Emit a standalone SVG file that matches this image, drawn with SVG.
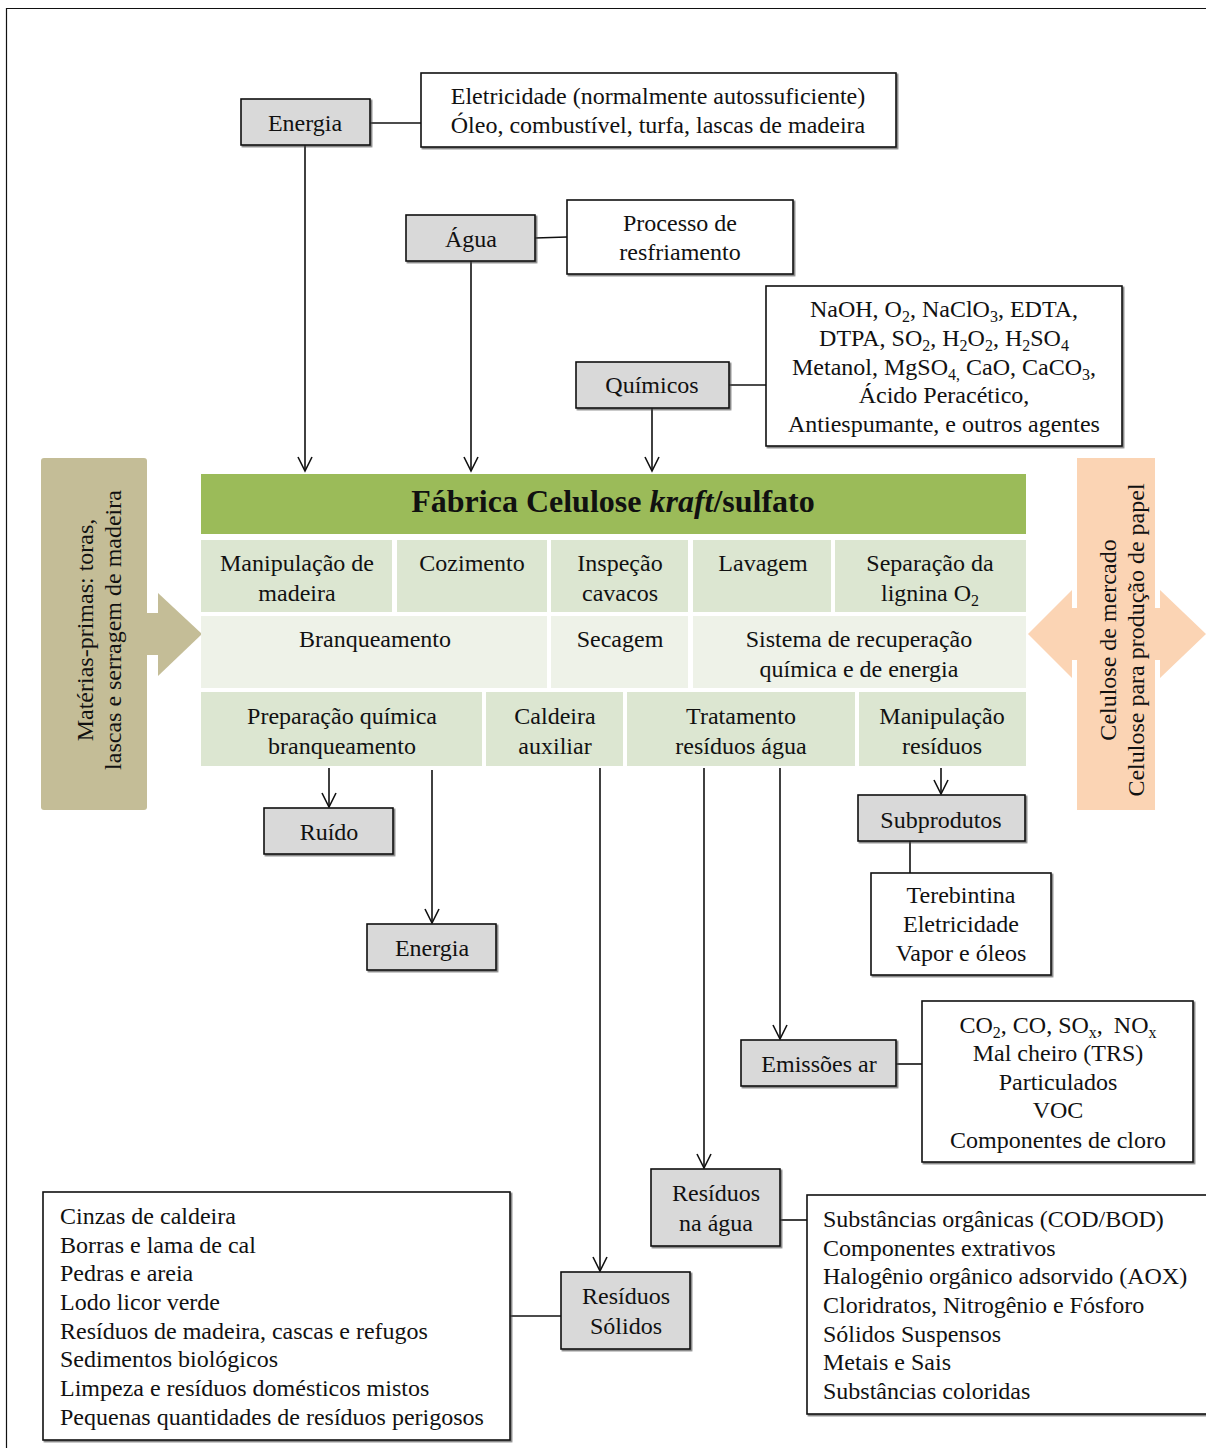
<svg xmlns="http://www.w3.org/2000/svg" width="1206" height="1448" viewBox="0 0 1206 1448">
<style>
text{font-family:"Liberation Serif","Times New Roman",serif;font-size:24px;fill:#111}
.c{text-anchor:middle}
.box{fill:#d9d9d9;stroke:#111;stroke-width:1.6}
.wbox{fill:#fff;stroke:#111;stroke-width:1.6}
.c1{fill:#dce6d1}
.c2{fill:#eef2e8}
.ln{stroke:#111;stroke-width:1.6;fill:none}
.ar{stroke:#111;stroke-width:1.6;fill:none;marker-end:url(#v)}
.sub{font-size:16px}
</style>
<defs>
<marker id="v" viewBox="-16 -9 18 18" refX="0" refY="0" markerWidth="18" markerHeight="18" markerUnits="userSpaceOnUse" orient="auto">
<path d="M-14,-7 L0,0 L-14,7" fill="none" stroke="#111" stroke-width="1.6"/>
</marker>
<filter id="sh" x="-5%" y="-5%" width="110%" height="115%">
<feDropShadow dx="1.5" dy="1.5" stdDeviation="0.6" flood-color="#444" flood-opacity="0.7"/>
</filter>
</defs>
<rect width="1206" height="1448" fill="#fff"/>
<path d="M1206,8.5 H6.5 V1448" fill="none" stroke="#111" stroke-width="1.2"/>

<g id="connectors">
<line class="ln" x1="370" y1="123" x2="421" y2="123"/>
<line class="ar" x1="305" y1="145" x2="305" y2="471"/>
<line class="ln" x1="535" y1="238" x2="567" y2="237"/>
<line class="ar" x1="471" y1="261" x2="471" y2="471"/>
<line class="ln" x1="729" y1="385" x2="766" y2="385"/>
<line class="ar" x1="652" y1="408" x2="652" y2="471"/>
<line class="ar" x1="329" y1="768" x2="329" y2="807"/>
<line class="ar" x1="432" y1="770" x2="432" y2="923"/>
<line class="ar" x1="600" y1="768" x2="600" y2="1271"/>
<line class="ar" x1="704" y1="768" x2="704" y2="1168"/>
<line class="ar" x1="780" y1="768" x2="780" y2="1039"/>
<line class="ar" x1="941" y1="768" x2="941" y2="794"/>
<line class="ln" x1="910" y1="841" x2="910" y2="873"/>
<line class="ln" x1="896" y1="1064" x2="922" y2="1064"/>
<line class="ln" x1="780" y1="1220" x2="807" y2="1220"/>
<line class="ln" x1="510" y1="1316" x2="561" y2="1316"/>
</g>

<g id="materias-primas">
<rect x="41" y="458" width="106" height="352" rx="3" fill="#c4bd97"/>
<rect x="145" y="613" width="16" height="42" fill="#c4bd97"/>
<path d="M158,593 L202,634 L158,676 Z" fill="#c4bd97"/>
<text class="c" transform="translate(93,630) rotate(-90)">Matérias-primas: toras,</text>
<text class="c" transform="translate(121,630) rotate(-90)">lascas e serragem de madeira</text>
</g>

<g id="celulose-saida">
<path d="M1028,634 L1072,590 L1072,608 L1077,608 L1077,458 L1155,458 L1155,608 L1160,608 L1160,590 L1206,634 L1160,678 L1160,660 L1155,660 L1155,810 L1077,810 L1077,660 L1072,660 L1072,678 Z" fill="#fbd4b4"/>
<text class="c" transform="translate(1116,640) rotate(-90)">Celulose de mercado</text>
<text class="c" transform="translate(1144,640) rotate(-90)">Celulose para produção de papel</text>
</g>

<g id="energia-in">
<rect class="box" x="241" y="99" width="129" height="46" filter="url(#sh)"/>
<text class="c" x="305" y="131">Energia</text>
</g>
<g id="energia-fontes">
<rect class="wbox" x="421" y="73" width="475" height="74" filter="url(#sh)"/>
<text class="c" x="658" y="104">Eletricidade (normalmente autossuficiente)</text>
<text class="c" x="658" y="133">Óleo, combustível, turfa, lascas de madeira</text>
</g>
<g id="agua">
<rect class="box" x="406" y="215" width="129" height="46" filter="url(#sh)"/>
<text class="c" x="471" y="247">Água</text>
</g>
<g id="processo">
<rect class="wbox" x="567" y="200" width="226" height="74" filter="url(#sh)"/>
<text class="c" x="680" y="231">Processo de</text>
<text class="c" x="680" y="260">resfriamento</text>
</g>
<g id="quimicos">
<rect class="box" x="576" y="362" width="153" height="46" filter="url(#sh)"/>
<text class="c" x="652" y="393">Químicos</text>
</g>
<g id="quimicos-lista">
<rect class="wbox" x="766" y="286" width="356" height="160" filter="url(#sh)"/>
<text class="c" x="944" y="317">NaOH, O<tspan class="sub" dy="5">2</tspan><tspan dy="-5">, NaClO</tspan><tspan class="sub" dy="5">3</tspan><tspan dy="-5">, EDTA,</tspan></text>
<text class="c" x="944" y="346">DTPA, SO<tspan class="sub" dy="5">2</tspan><tspan dy="-5">, H</tspan><tspan class="sub" dy="5">2</tspan><tspan dy="-5">O</tspan><tspan class="sub" dy="5">2</tspan><tspan dy="-5">, H</tspan><tspan class="sub" dy="5">2</tspan><tspan dy="-5">SO</tspan><tspan class="sub" dy="5">4</tspan></text>
<text class="c" x="944" y="375">Metanol, MgSO<tspan class="sub" dy="5">4,</tspan><tspan dy="-5"> CaO, CaCO</tspan><tspan class="sub" dy="5">3</tspan><tspan dy="-5">,</tspan></text>
<text class="c" x="944" y="403">Ácido Peracético,</text>
<text class="c" x="944" y="432">Antiespumante, e outros agentes</text>
</g>

<g id="fabrica">
<rect x="201" y="474" width="825" height="60" fill="#9bbb59"/>
<text class="c" x="613" y="512" style="font-size:32px;font-weight:bold">Fábrica Celulose <tspan font-style="italic">kraft</tspan>/sulfato</text>
<rect class="c1" x="201" y="540" width="191" height="72"/>
<rect class="c1" x="397" y="540" width="150" height="72"/>
<rect class="c1" x="551" y="540" width="137" height="72"/>
<rect class="c1" x="693" y="540" width="138" height="72"/>
<rect class="c1" x="835" y="540" width="191" height="72"/>
<rect class="c2" x="201" y="616" width="346" height="72"/>
<rect class="c2" x="551" y="616" width="137" height="72"/>
<rect class="c2" x="693" y="616" width="333" height="72"/>
<rect class="c1" x="201" y="692" width="281" height="74"/>
<rect class="c1" x="486" y="692" width="137" height="74"/>
<rect class="c1" x="627" y="692" width="228" height="74"/>
<rect class="c1" x="859" y="692" width="167" height="74"/>
<text class="c" x="297" y="571">Manipulação de</text>
<text class="c" x="297" y="601">madeira</text>
<text class="c" x="472" y="571">Cozimento</text>
<text class="c" x="620" y="571">Inspeção</text>
<text class="c" x="620" y="601">cavacos</text>
<text class="c" x="763" y="571">Lavagem</text>
<text class="c" x="930" y="571">Separação da</text>
<text class="c" x="930" y="601">lignina O<tspan class="sub" dy="5">2</tspan></text>
<text class="c" x="375" y="647">Branqueamento</text>
<text class="c" x="620" y="647">Secagem</text>
<text class="c" x="859" y="647">Sistema de recuperação</text>
<text class="c" x="859" y="677">química e de energia</text>
<text class="c" x="342" y="724">Preparação química</text>
<text class="c" x="342" y="754">branqueamento</text>
<text class="c" x="555" y="724">Caldeira</text>
<text class="c" x="555" y="754">auxiliar</text>
<text class="c" x="741" y="724">Tratamento</text>
<text class="c" x="741" y="754">resíduos água</text>
<text class="c" x="942" y="724">Manipulação</text>
<text class="c" x="942" y="754">resíduos</text>
</g>

<g id="ruido">
<rect class="box" x="264" y="808" width="129" height="46" filter="url(#sh)"/>
<text class="c" x="329" y="840">Ruído</text>
</g>
<g id="energia-out">
<rect class="box" x="367" y="924" width="129" height="46" filter="url(#sh)"/>
<text class="c" x="432" y="956">Energia</text>
</g>
<g id="subprodutos">
<rect class="box" x="858" y="795" width="167" height="46" filter="url(#sh)"/>
<text class="c" x="941" y="828">Subprodutos</text>
</g>
<g id="subprodutos-lista">
<rect class="wbox" x="871" y="873" width="180" height="102" filter="url(#sh)"/>
<text class="c" x="961" y="903">Terebintina</text>
<text class="c" x="961" y="932">Eletricidade</text>
<text class="c" x="961" y="961">Vapor e óleos</text>
</g>
<g id="emissoes">
<rect class="box" x="741" y="1040" width="155" height="46" filter="url(#sh)"/>
<text class="c" x="819" y="1072">Emissões ar</text>
</g>
<g id="emissoes-lista">
<rect class="wbox" x="922" y="1001" width="271" height="161" filter="url(#sh)"/>
<text class="c" x="1058" y="1033">CO<tspan class="sub" dy="5">2</tspan><tspan dy="-5">, CO, SO</tspan><tspan class="sub" dy="5">x</tspan><tspan dy="-5">, </tspan><tspan dx="5">NO</tspan><tspan class="sub" dy="5">x</tspan></text>
<text class="c" x="1058" y="1061">Mal cheiro (TRS)</text>
<text class="c" x="1058" y="1090">Particulados</text>
<text class="c" x="1058" y="1118">VOC</text>
<text class="c" x="1058" y="1148">Componentes de cloro</text>
</g>
<g id="residuos-agua">
<rect class="box" x="651" y="1169" width="129" height="77" filter="url(#sh)"/>
<text class="c" x="716" y="1201">Resíduos</text>
<text class="c" x="716" y="1231">na água</text>
</g>
<g id="residuos-agua-lista">
<rect class="wbox" x="807" y="1195" width="410" height="219" filter="url(#sh)"/>
<text x="823" y="1227">Substâncias orgânicas (COD/BOD)</text>
<text x="823" y="1256">Componentes extrativos</text>
<text x="823" y="1284">Halogênio orgânico adsorvido (AOX)</text>
<text x="823" y="1313">Cloridratos, Nitrogênio e Fósforo</text>
<text x="823" y="1342">Sólidos Suspensos</text>
<text x="823" y="1370">Metais e Sais</text>
<text x="823" y="1399">Substâncias coloridas</text>
</g>
<g id="residuos-solidos">
<rect class="box" x="561" y="1272" width="129" height="77" filter="url(#sh)"/>
<text class="c" x="626" y="1304">Resíduos</text>
<text class="c" x="626" y="1334">Sólidos</text>
</g>
<g id="residuos-solidos-lista">
<rect class="wbox" x="43" y="1192" width="467" height="248" filter="url(#sh)"/>
<text x="60" y="1224">Cinzas de caldeira</text>
<text x="60" y="1253">Borras e lama de cal</text>
<text x="60" y="1281">Pedras e areia</text>
<text x="60" y="1310">Lodo licor verde</text>
<text x="60" y="1339">Resíduos de madeira, cascas e refugos</text>
<text x="60" y="1367">Sedimentos biológicos</text>
<text x="60" y="1396">Limpeza e resíduos domésticos mistos</text>
<text x="60" y="1425">Pequenas quantidades de resíduos perigosos</text>
</g>
</svg>
